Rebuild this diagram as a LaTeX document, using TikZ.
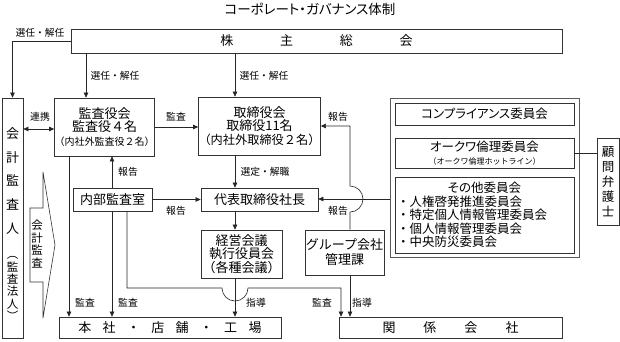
\documentclass[tikz,border=0pt]{standalone}
\usepackage{fontspec}
\setmainfont{Noto Sans CJK JP}
\newfontfamily\pfont[RawFeature=+palt]{Noto Sans CJK JP}
\newcommand\smv[1]{{\fontsize{11.5}{23.7}\selectfont #1}}
\usetikzlibrary{arrows.meta}
\begin{document}
\begin{tikzpicture}[x=1pt,y=-1pt,
  box/.style={draw=black!80, line width=0.7pt, inner sep=0pt, align=center, font=\fontsize{13}{13.5}\selectfont},
  cbox/.style={box, font=\pfont\fontsize{12.5}{13.5}\selectfont},
  lbl/.style={font=\fontsize{9.8}{10}\selectfont, inner sep=0pt},
  ln/.style={draw=black!85, line width=0.6pt},
  arr/.style={ln, -{Triangle[length=5pt,width=4.5pt]}},
  darr/.style={ln, {Triangle[length=5pt,width=4.5pt]}-{Triangle[length=5pt,width=4.5pt]}}]
\useasboundingbox (0,0) rectangle (620,341);

% title
\node[font=\pfont\fontsize{13.5}{14}\selectfont] (title) at (310,9) {コーポレート・ガバナンス体制};

% boxes
\node[box, minimum width=491pt, minimum height=24pt] (sh) at (316.5,41)
  {株\hspace{46.7pt}主\hspace{46.7pt}総\hspace{46.7pt}会};
\node[box, minimum width=21pt, minimum height=240pt,
  label={[font=\fontsize{13}{23.7}\selectfont, align=center, inner sep=0pt, yshift=-6pt]center:{会\\計\\監\\査\\人\\[2pt]\smv{︵}\\[-11.4pt]\smv{監}\\[-11.4pt]\smv{査}\\[-11.4pt]\smv{法}\\[-11.4pt]\smv{人}\\[-11.4pt]\smv{︶}}}]
  (acc) at (12.5,218) {};
\node[box, minimum width=95pt, minimum height=58pt] (kansa) at (104.5,127)
  {監査役会\\監査役４名\\{\fontsize{10}{11.5}\selectfont（内社外監査役２名）}};
\node[box, minimum width=117pt, minimum height=58pt] (tori) at (259.5,126)
  {取締役会\\取締役11名\\{\fontsize{12.2}{13.5}\selectfont（内社外取締役２名）}};
\node[box, minimum width=79pt, minimum height=23pt] (naibu) at (112.5,199.5) {内部監査室};
\node[box, minimum width=117pt, minimum height=23pt] (daihyo) at (259.5,199.5) {代表取締役社長};
\node[box, minimum width=81pt, minimum height=48pt] (keiei) at (241.5,254)
  {経営会議\\執行役員会\\（各種会議）};
\node[box, minimum width=79pt, minimum height=45pt, font=\fontsize{13}{15}\selectfont] (grp) at (344.5,252.5)
  {グループ会社\\管理課};
\node[box, minimum width=222pt, minimum height=21pt] (honsha) at (170,327.5)
  {本\hspace{11.3pt}社\hspace{11.3pt}・\hspace{11.3pt}店\hspace{11.3pt}舗\hspace{11.3pt}・\hspace{11.3pt}工\hspace{11.3pt}場};
\node[box, minimum width=223pt, minimum height=21pt] (kankei) at (450.5,327.5)
  {関\hspace{28pt}係\hspace{28pt}会\hspace{28pt}社};

% committees
\node[draw=black!65, line width=0.7pt, minimum width=189pt, minimum height=159pt, inner sep=0pt] (comm) at (484.5,177.5) {};
\node[cbox, minimum width=179pt, minimum height=22pt] (comp) at (484.5,114) {コンプライアンス委員会};
\node[cbox, minimum width=179pt, minimum height=30pt] (rinri) at (484.5,153)
  {オークワ倫理委員会\\{\normalfont\fontsize{8}{9.5}\selectfont（オークワ倫理ホットライン）}};
\node[box, minimum width=179pt, minimum height=76pt, align=left, font=\fontsize{12.5}{13.5}\selectfont] (other) at (484.5,215)
  {\makebox[14em]{\pfont その他委員会}\\
   ・人権啓発推進委員会\\・特定個人情報管理委員会\\
   ・個人情報管理委員会\\・中央防災委員会};
\node[box, minimum width=22pt, minimum height=87pt, font=\fontsize{12.5}{15}\selectfont] (komon) at (608,181.5)
  {顧\\問\\弁\\護\\士};

% big arrow 会計監査
\draw[draw=black!80, line width=0.6pt] (30,208) -- (43,208) -- (43,172) -- (55,245) -- (43,318) -- (43,282) -- (30,282) -- cycle;
\node[font=\fontsize{11.5}{12.5}\selectfont, align=center, inner sep=0pt] (kaikei) at (37,244) {会\\計\\監\\査};

% connectors
\draw[arr] (sh.west) -| (acc.north);
\node[lbl] (l1) at (40,33) {選任・解任};
\draw[arr] (86,0 |- sh.south) -- (86,0 |- kansa.north);
\node[lbl] (l2) at (115,76) {選任・解任};
\draw[arr] (235,0 |- sh.south) -- (235,0 |- tori.north);
\node[lbl] (l3) at (264,76) {選任・解任};
\draw[darr] (acc.east |- 0,129) -- (kansa.west |- 0,129);
\node[lbl] (l4) at (40,117) {連携};
\draw[arr] (kansa.east |- 0,127) -- (tori.west |- 0,127);
\node[lbl] (l5) at (176,117) {監査};
\draw[arr] (112,0 |- naibu.north) -- (112,0 |- kansa.south);
\node[lbl] (l6) at (128,172) {報告};
\draw[arr] (naibu.east) -- (daihyo.west);
\node[lbl] (l7) at (176,211) {報告};
\draw[arr] (235,0 |- tori.south) -- (235,0 |- daihyo.north);
\node[lbl] (l8) at (265,172) {選定・解職};
\draw[arr] (235,0 |- daihyo.south) -- (235,0 |- keiei.north);
\draw[arr] (235,0 |- keiei.south) -- (235,0 |- honsha.north);
\node[lbl] (l9) at (256,303) {指導};
\draw[arr] (69,0 |- kansa.south) -- (69,0 |- honsha.north);
\node[lbl] (l10) at (85,303) {監査};
\draw[arr] (112,0 |- naibu.south) -- (112,0 |- honsha.north);
\node[lbl] (l11) at (128,303) {監査};
\draw[arr] (127,0 |- naibu.south) -- (127,288) -- (222,288) arc[start angle=180, end angle=0, radius=13]
  -- (341,288) -- (341,0 |- kankei.north);
\node[lbl] (l12) at (322,303) {監査};
\draw[arr] (350,0 |- grp.south) -- (350,0 |- kankei.north);
\node[lbl] (l13) at (362,303) {指導};
\draw[arr] (350,0 |- grp.north) -- (350,212) arc[start angle=90, end angle=-90, radius=13]
  -- (350,126) -- (tori.east |- 0,126);
\node[lbl] (l14) at (338,117) {報告};
\draw[arr] (comm.west |- 0,199) -- (daihyo.east |- 0,199);
\node[lbl] (l15) at (338,211) {報告};
\draw[ln] (rinri.east) -- (rinri.east -| komon.west);
\end{tikzpicture}
\end{document}
